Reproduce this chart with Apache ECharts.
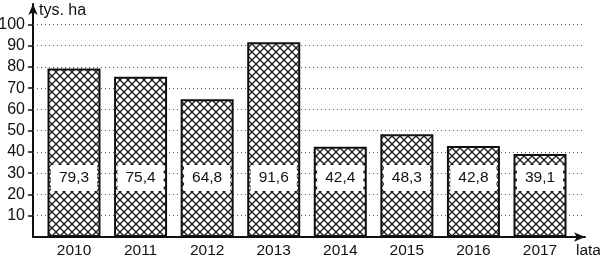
<!DOCTYPE html>
<html>
<head>
<meta charset="utf-8">
<script src="https://cdn.jsdelivr.net/npm/echarts@6/dist/echarts.min.js"></script>
<style>
html,body{margin:0;padding:0;background:#fff;}
#c{width:600px;height:261px;}
</style>
</head>
<body>
<div id="c"></div>
<script>
const years = ['2010','2011','2012','2013','2014','2015','2016','2017'];
const values = [79.3, 75.4, 64.8, 91.6, 42.4, 48.3, 42.8, 39.1];
const yTicks = [10,20,30,40,50,60,70,80,90,100];
const yUnit = 'tys. ha';
const xUnit = 'lata';

// hatch pattern
const pc = document.createElement('canvas');
pc.width = 8; pc.height = 8;
const g = pc.getContext('2d');
g.fillStyle = '#fff'; g.fillRect(0,0,8,8);
g.strokeStyle = '#1a1a1a'; g.lineWidth = 1.3;
g.beginPath();
g.moveTo(0,0); g.lineTo(8,8);
g.moveTo(8,0); g.lineTo(0,8);
g.stroke();

const font = 'Liberation Sans, Arial, sans-serif';
const chart = echarts.init(document.getElementById('c'), null, {renderer:'canvas'});
chart.setOption({
  animation:false,
  backgroundColor:'#fff',
  grid:{left:33, right:15, top:4, bottom:24, containLabel:false, outerBoundsMode:'none'},
  xAxis:{
    type:'value', min:-0.616, max:7.676,
    axisLine:{show:true, onZero:false, lineStyle:{color:'#111', width:2}, symbol:['none','arrow'], symbolSize:[7,11]},
    axisTick:{show:false},
    splitLine:{show:false},
    axisLabel:{customValues:years.map((y,i)=>i), formatter:v=>years[Math.round(v)], color:'#111', fontSize:15.5, fontFamily:font, margin:6},
    name:xUnit, nameLocation:'end', nameGap:-9,
    nameTextStyle:{color:'#111', fontSize:15.5, fontFamily:font, align:'left', verticalAlign:'top', padding:[6,0,0,0]}
  },
  yAxis:{
    type:'value', min:0, max:109.6,
    axisLine:{show:true, onZero:false, lineStyle:{color:'#111', width:2}, symbol:['none','arrow'], symbolSize:[7,11]},
    axisTick:{show:true, length:5, customValues:yTicks, lineStyle:{color:'#111', width:1.5}},
    axisLabel:{customValues:yTicks, color:'#111', fontSize:16, fontFamily:font, margin:8},
    splitLine:{show:false},
    name:yUnit, nameLocation:'end', nameGap:-7,
    nameTextStyle:{color:'#111', fontSize:16, fontFamily:font, align:'left', verticalAlign:'middle', padding:[0,0,0,6]}
  },
  series:[
    {
      type:'line', data:[], z:1,
      markLine:{silent:true, symbol:'none', z:1, label:{show:false},
        lineStyle:{color:'#555', type:[1,3], width:1},
        data: yTicks.map(v=>({yAxis:v}))}
    },
    {
      type:'bar', z:3, barWidth:53,
      data: values.map((v,i)=>[i,v]),
      itemStyle:{color:{image:pc, repeat:'repeat'}, borderColor:'#111', borderWidth:2},
      label:{show:true, position:'insideBottom', distance:46,
        formatter:p=>p.value[1].toFixed(1).replace('.',','),
        backgroundColor:'#fff', padding:[5,8,5,8],
        color:'#111', fontSize:15.5, fontFamily:font}
    }
  ]
});
</script>
</body>
</html>
